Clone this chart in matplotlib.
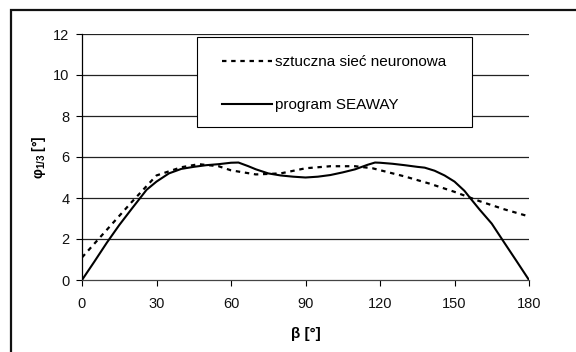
import matplotlib
matplotlib.use("Agg")
import matplotlib.pyplot as plt
from matplotlib.patches import Rectangle

plt.rcParams['font.family'] = ['Liberation Sans', 'DejaVu Sans']
plt.rcParams['mathtext.fontset'] = 'custom'
plt.rcParams['mathtext.rm'] = 'Liberation Sans'
plt.rcParams['mathtext.bf'] = 'Liberation Sans:bold'
plt.rcParams['lines.scale_dashes'] = False

# data
beta_nn = [0, 10, 20, 30, 40, 47, 55, 60, 70, 80, 90, 100, 110, 117, 130, 140, 150, 160, 170, 180]
phi_nn = [1.1, 2.45, 3.8, 5.1, 5.5, 5.65, 5.55, 5.35, 5.15, 5.2, 5.45, 5.55, 5.55, 5.45, 5.05, 4.7, 4.3, 3.85, 3.45, 3.1]

beta_sw = [0, 5, 10, 15, 20, 26, 30, 35, 40, 45, 50, 55, 60, 63, 67, 70, 75, 80, 85, 90, 95, 100, 105,
           110, 115, 118, 120, 125, 130, 135, 138, 142, 146, 150, 154, 156.3, 160, 165, 170, 175, 180]
phi_sw = [0, 0.9, 1.82, 2.68, 3.47, 4.4, 4.8, 5.2, 5.42, 5.52, 5.6, 5.65, 5.72, 5.73, 5.55, 5.4, 5.2, 5.1,
          5.04, 5.0, 5.04, 5.12, 5.25, 5.4, 5.62, 5.73, 5.72, 5.67, 5.6, 5.52, 5.48, 5.33, 5.1, 4.8, 4.35,
          4.0, 3.45, 2.75, 1.83, 0.92, 0]

labels = ['sztuczna sieć neuronowa', 'program SEAWAY']
xticks = [0, 30, 60, 90, 120, 150, 180]
yticks = [0, 2, 4, 6, 8, 10, 12]

fig = plt.figure(figsize=(5.76, 3.52), dpi=100)
ax = fig.add_axes([82/576, 1 - 280/352, (529-82)/576, (280-34)/352])

# outer frame
fig.patches.append(Rectangle((11/576, -0.1), 1.2, 1 - 9.5/352 + 0.1, transform=fig.transFigure,
                             fill=False, edgecolor='#111111', linewidth=1.6))

for yv in yticks[1:]:
    ax.axhline(yv, color='#222222', linewidth=0.9, zorder=1)

ax.plot(beta_nn, phi_nn, color='black', linewidth=1.6, dashes=(3.2, 3.4), label=labels[0], zorder=3)
ax.plot(beta_sw, phi_sw, color='black', linewidth=1.5, label=labels[1], zorder=3)

ax.set_xlim(0, 180)
ax.set_ylim(0, 12)
ax.set_xticks(xticks)
ax.set_yticks(yticks)
ax.tick_params(axis='both', labelsize=10.5, direction='out', length=4, width=0.8, color='black',
               labelcolor='#111111')
ax.tick_params(axis='x', pad=8)
ax.tick_params(axis='y', pad=5)
for s in ['top', 'right']:
    ax.spines[s].set_visible(False)
ax.spines['left'].set_linewidth(0.9)
ax.spines['bottom'].set_linewidth(0.9)
ax.spines['bottom'].set_color('#444444')

ax.set_xlabel('β [°]', fontsize=11, fontweight='bold', labelpad=12)
ax.set_ylabel(r'φ$_{\mathbf{1/3}}$ [°]', fontsize=10, fontweight='bold', labelpad=4)

# legend box
lx0, lx1 = 46.2 / 180, 157 / 180
ly0, ly1 = 7.45 / 12, 11.84 / 12
ax.add_patch(Rectangle((lx0, ly0), lx1 - lx0, ly1 - ly0, transform=ax.transAxes,
                       facecolor='white', edgecolor='black', linewidth=0.8, zorder=4))
leg = ax.legend(loc='upper left', bbox_to_anchor=(lx0 + 0.056, 0.914), frameon=False,
                fontsize=11, handlelength=3.3, handletextpad=0.2, labelspacing=1.92,
                borderpad=0, borderaxespad=0)
leg.set_zorder(5)

fig.savefig('out.png', dpi=100)
